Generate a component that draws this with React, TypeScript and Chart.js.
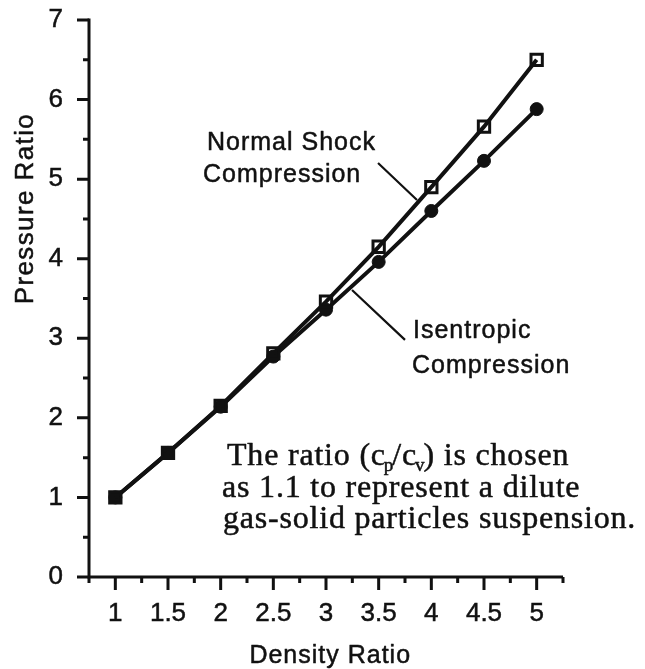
import React, { useEffect, useRef } from 'react';
import { Chart, registerables } from 'chart.js';

Chart.register(...registerables);

// ---- data ----
const densityRatio = [1, 1.5, 2, 2.5, 3, 3.5, 4, 4.5, 5];
const normalShock = [1.0, 1.56, 2.15, 2.81, 3.46, 4.15, 4.9, 5.66, 6.5];
const isentropic = [1.0, 1.56, 2.14, 2.77, 3.36, 3.96, 4.6, 5.23, 5.88];

const xTickValues = [0.75, 1, 1.25, 1.5, 1.75, 2, 2.25, 2.5, 2.75, 3, 3.25, 3.5, 3.75, 4, 4.25, 4.5, 4.75, 5, 5.25];
const xMajorTicks = [1, 1.5, 2, 2.5, 3, 3.5, 4, 4.5, 5];
const yTickValues = [0, 0.5, 1, 1.5, 2, 2.5, 3, 3.5, 4, 4.5, 5, 5.5, 6, 6.5, 7];
const yMajorTicks = [0, 1, 2, 3, 4, 5, 6, 7];

const xTitle = 'Density Ratio';
const yTitle = 'Pressure Ratio';
const normalShockLabel = ['Normal Shock', 'Compression'];
const isentropicLabel = ['Isentropic', 'Compression'];
const noteLines = [
  [
    { text: 'The ratio (c' },
    { text: 'p', sub: true },
    { text: '/c' },
    { text: 'v', sub: true },
    { text: ') is chosen' },
  ],
  [{ text: 'as 1.1 to represent a dilute' }],
  [{ text: 'gas-solid particles suspension.' }],
];

// ---- annotation placement (data units) ----
const annot = {
  normalShockText: [{ x: 1.87, y: 5.37 }, { x: 1.832, y: 4.96 }],
  normalShockLeader: [{ x: 3.494, y: 5.203 }, { x: 3.864, y: 4.738 }],
  isentropicText: [{ x: 3.826, y: 3.0 }, { x: 3.817, y: 2.56 }],
  isentropicLeader: [{ x: 3.247, y: 3.607 }, { x: 3.75, y: 2.98 }],
  note: [{ x: 2.06, y: 1.408 }, { x: 2.013, y: 1.005 }, { x: 2.022, y: 0.616 }],
};

const INK = '#111111';
const SANS = '"Liberation Sans", Arial, Helvetica, sans-serif';
const SERIF = '"Liberation Serif", "Times New Roman", serif';

function drawText(ctx: CanvasRenderingContext2D, t: string, x: number, y: number) {
  ctx.fillText(t, x, y);
  ctx.strokeText(t, x, y);
}

const decorPlugin = {
  id: 'decor',
  afterDraw(chart: any) {
    const ctx = chart.ctx as CanvasRenderingContext2D;
    const xs = chart.scales.x;
    const ys = chart.scales.y;
    const px = (v: number) => xs.getPixelForValue(v);
    const py = (v: number) => ys.getPixelForValue(v);
    const axisX = px(xs.min);
    const axisY = py(ys.min);

    ctx.save();
    ctx.strokeStyle = INK;
    ctx.fillStyle = INK;
    ctx.lineCap = 'butt';

    // axes lines
    ctx.lineWidth = 3;
    ctx.beginPath();
    ctx.moveTo(axisX, py(ys.max) - 1.5);
    ctx.lineTo(axisX, axisY + 1.5);
    ctx.moveTo(axisX - 1.5, axisY);
    ctx.lineTo(px(xs.max), axisY);
    ctx.stroke();

    // ticks
    ctx.beginPath();
    yTickValues.forEach((v) => {
      const len = yMajorTicks.includes(v) ? 12 : 6;
      ctx.moveTo(axisX - len, py(v));
      ctx.lineTo(axisX, py(v));
    });
    xTickValues.forEach((v) => {
      const len = xMajorTicks.includes(v) ? 13 : 6;
      ctx.moveTo(px(v), axisY);
      ctx.lineTo(px(v), axisY + len);
    });
    ctx.stroke();

    // text stroke for a slightly heavier look
    ctx.lineWidth = 0.5;
    ctx.lineJoin = 'round';

    // axis titles
    (ctx as any).letterSpacing = '1px';
    ctx.font = `25px ${SANS}`;
    ctx.textAlign = 'center';
    ctx.textBaseline = 'alphabetic';
    drawText(ctx, xTitle, px(3.04), axisY + 86);

    ctx.save();
    (ctx as any).letterSpacing = '1.4px';
    ctx.font = `26px ${SANS}`;
    ctx.translate(33, py(4.63));
    ctx.rotate(-Math.PI / 2);
    drawText(ctx, yTitle, 0, 0);
    ctx.restore();

    // series labels
    ctx.textAlign = 'left';
    (ctx as any).letterSpacing = '1px';
    ctx.font = `25px ${SANS}`;
    normalShockLabel.forEach((t, i) => {
      const a = annot.normalShockText[i];
      drawText(ctx, t, px(a.x), py(a.y));
    });
    isentropicLabel.forEach((t, i) => {
      const a = annot.isentropicText[i];
      drawText(ctx, t, px(a.x), py(a.y));
    });

    // serif note
    (ctx as any).letterSpacing = '0.8px';
    noteLines.forEach((segs, i) => {
      const a = annot.note[i];
      let x = px(a.x);
      const y = py(a.y);
      segs.forEach((s: any) => {
        if (s.sub) {
          (ctx as any).letterSpacing = '0px';
          ctx.font = `19px ${SERIF}`;
          drawText(ctx, s.text, x - 2, y + 6);
          x += ctx.measureText(s.text).width - 3;
          (ctx as any).letterSpacing = '0.8px';
        } else {
          ctx.font = `32px ${SERIF}`;
          drawText(ctx, s.text, x, y);
          x += ctx.measureText(s.text).width;
        }
      });
    });

    // leader lines
    (ctx as any).letterSpacing = '0px';
    ctx.lineWidth = 2.2;
    ctx.beginPath();
    [annot.normalShockLeader, annot.isentropicLeader].forEach((seg) => {
      ctx.moveTo(px(seg[0].x), py(seg[0].y));
      ctx.lineTo(px(seg[1].x), py(seg[1].y));
    });
    ctx.stroke();

    ctx.restore();
  },
};

export default function App() {
  const canvasRef = useRef<HTMLCanvasElement | null>(null);

  useEffect(() => {
    document.body.style.margin = '0';
    const canvas = canvasRef.current;
    if (!canvas) return;

    const chart = new Chart(canvas, {
      type: 'line',
      data: {
        datasets: [
          {
            label: 'Normal Shock Compression',
            data: densityRatio.map((x, i) => ({ x, y: normalShock[i] })),
            borderColor: INK,
            borderWidth: 4,
            pointStyle: 'rect',
            pointRadius: 8,
            pointBorderWidth: 3,
            pointBorderColor: INK,
            pointBackgroundColor: 'rgba(0,0,0,0)',
            tension: 0,
            fill: false,
            clip: false as any,
          },
          {
            label: 'Isentropic Compression',
            data: densityRatio.map((x, i) => ({ x, y: isentropic[i] })),
            borderColor: INK,
            borderWidth: 4,
            pointStyle: 'circle',
            pointRadius: 6.5,
            pointBorderWidth: 1,
            pointBorderColor: INK,
            pointBackgroundColor: INK,
            tension: 0,
            fill: false,
            clip: false as any,
          },
        ],
      },
      options: {
        responsive: false,
        animation: false,
        devicePixelRatio: 1,
        layout: { padding: { top: 20, right: 82, left: 0, bottom: 0 } },
        plugins: {
          legend: { display: false },
          tooltip: { enabled: false },
        },
        scales: {
          x: {
            type: 'linear',
            min: 0.75,
            max: 5.25,
            afterBuildTicks: (scale: any) => {
              scale.ticks = xTickValues.map((v) => ({ value: v }));
            },
            afterFit: (scale: any) => {
              scale.height = 92;
              scale.paddingLeft = 0;
              scale.paddingRight = 0;
            },
            grid: { display: false, drawTicks: false },
            border: { display: false },
            ticks: {
              autoSkip: false,
              maxRotation: 0,
              padding: 21,
              color: INK,
              textStrokeColor: INK,
              textStrokeWidth: 0.5,
              font: { family: SANS, size: 26 },
              callback: (v: any) => (xMajorTicks.includes(Number(v)) ? String(v) : ''),
            },
          },
          y: {
            type: 'linear',
            min: 0,
            max: 7,
            afterBuildTicks: (scale: any) => {
              scale.ticks = yTickValues.map((v) => ({ value: v }));
            },
            afterFit: (scale: any) => {
              scale.width = 89;
              scale.paddingTop = 0;
              scale.paddingBottom = 0;
            },
            grid: { display: false, drawTicks: false },
            border: { display: false },
            ticks: {
              autoSkip: false,
              padding: 26,
              color: INK,
              textStrokeColor: INK,
              textStrokeWidth: 0.5,
              font: { family: SANS, size: 26 },
              callback: (v: any) => (yMajorTicks.includes(Number(v)) ? String(v) : ''),
            },
          },
        },
      },
      plugins: [decorPlugin],
    });

    return () => chart.destroy();
  }, []);

  return (
    <div style={{ width: 645, height: 669 }}>
      <canvas ref={canvasRef} width={645} height={669} style={{ display: 'block' }} />
    </div>
  );
}
